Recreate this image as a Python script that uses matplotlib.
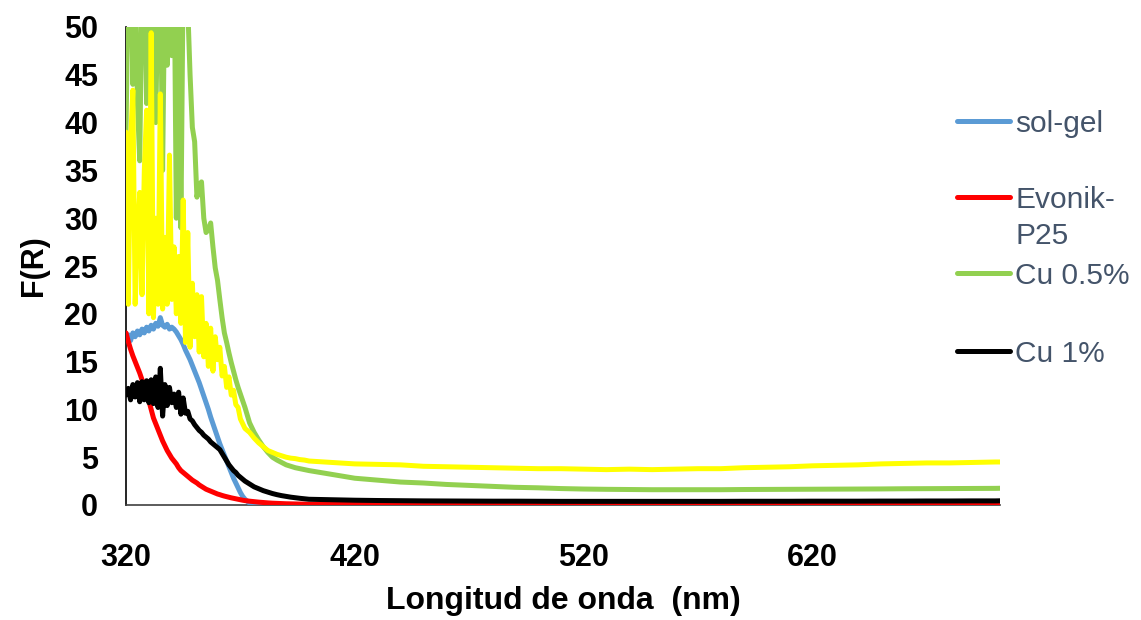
import numpy as np
import matplotlib
matplotlib.use("Agg")
import matplotlib.pyplot as plt
from matplotlib.lines import Line2D

plt.rcParams['font.family'] = ['Liberation Sans', 'DejaVu Sans']

# ---------------- DATA ----------------
# wavelength grid (nm): 1 nm steps in the noisy band, coarser in the tail
wl = np.concatenate([np.arange(320, 373, 1),
                     np.arange(374, 401, 2),
                     np.arange(410, 701, 10),
                     [702]])

sol_gel = [17.3, 17.8, 17.2, 18.0, 17.6, 18.2, 17.8, 18.4, 18.0, 18.6,
           18.2, 18.8, 18.4, 19.0, 18.7, 19.6, 18.8, 18.6, 18.9, 18.4,
           18.6, 18.4, 18.1, 17.7, 17.3, 16.8, 16.2, 15.7, 15.2, 14.6,
           14.0, 13.4, 12.8, 12.1, 11.4, 10.7, 10.0, 9.2, 8.5, 7.8,
           7.1, 6.4, 5.8, 5.2, 4.6, 4.0, 3.4, 2.8, 2.3, 1.8,
           1.3, 0.9, 0.6,
           0.2, 0.03, 0, 0, 0, 0, 0, 0, 0, 0, 0, 0, 0, 0,
           0, 0, 0, 0, 0, 0, 0, 0, 0, 0, 0, 0, 0, 0, 0,
           0, 0, 0, 0, 0, 0, 0, 0, 0, 0, 0, 0, 0, 0, 0,
           0]

evonik = [18.0, 17.1, 16.3, 15.6, 15.0, 14.4, 13.8, 13.1, 12.4, 11.7,
          10.9, 10.0, 9.1, 8.5, 7.9, 7.3, 6.7, 6.2, 5.7, 5.3,
          4.9, 4.6, 4.3, 3.9, 3.6, 3.4, 3.2, 3.0, 2.8, 2.6,
          2.45, 2.3, 2.1, 1.95, 1.8, 1.65, 1.55, 1.45, 1.35, 1.25,
          1.15, 1.08, 1.0, 0.93, 0.87, 0.81, 0.75, 0.7, 0.65, 0.6,
          0.55, 0.5, 0.46,
          0.4, 0.35, 0.3, 0.26, 0.22, 0.19, 0.17, 0.15, 0.13, 0.12, 0.11, 0.1, 0.09, 0.08,
          0.07, 0.06, 0.06, 0.05, 0.05, 0.05, 0.05, 0.05, 0.05, 0.05, 0.05, 0.05, 0.05, 0.05, 0.05,
          0.05, 0.05, 0.05, 0.05, 0.05, 0.05, 0.05, 0.05, 0.05, 0.05, 0.05, 0.05, 0.05, 0.05, 0.05,
          0.05]

cu_05 = [39, 56, 58, 44, 57, 42, 36, 55, 57, 42,
         56, 45, 58, 40, 55, 57, 35, 56, 46, 55,
         47, 58, 30, 57, 29, 56, 57, 52, 45, 39.5,
         38, 32.2, 33.5, 33.8, 30, 28.5, 28.8, 29.5, 27, 24.8,
         23.5, 21.5, 19.6, 18.0, 17.0, 15.9, 14.9, 14.0, 13.1, 12.3,
         11.6, 10.9, 10.2,
         8.6, 7.6, 6.8, 6.1, 5.5, 5.0, 4.7, 4.45, 4.2, 4.05, 3.9, 3.8, 3.7, 3.6,
         3.2, 2.8, 2.6, 2.4, 2.3, 2.15, 2.05, 1.95, 1.85, 1.8, 1.72, 1.67, 1.64, 1.62, 1.6,
         1.6, 1.6, 1.6, 1.62, 1.63, 1.64, 1.65, 1.66, 1.67, 1.68, 1.7, 1.71, 1.72, 1.73, 1.74,
         1.75]

cu_1 = [11.5, 12.2, 11.0, 12.6, 11.3, 12.8, 10.8, 12.9, 11.0, 13.0,
        10.7, 13.1, 10.6, 13.4, 10.2, 14.3, 9.3, 12.6, 10.4, 12.3,
        10.7, 11.6, 10.2, 11.8, 9.5, 11.2, 9.6, 9.8, 9.0, 8.8,
        8.4, 8.1, 7.8, 7.6, 7.3, 7.1, 6.9, 6.6, 6.4, 6.2,
        6.0, 5.8, 5.4, 5.0, 4.6, 4.2, 3.9, 3.6, 3.4, 3.1,
        2.9, 2.7, 2.5,
        2.2, 1.9, 1.7, 1.5, 1.35, 1.2, 1.08, 0.98, 0.9, 0.82, 0.76, 0.7, 0.65, 0.6,
        0.55, 0.5, 0.47, 0.45, 0.43, 0.42, 0.41, 0.4, 0.4, 0.39, 0.38, 0.38, 0.38, 0.38, 0.38,
        0.38, 0.38, 0.38, 0.39, 0.39, 0.39, 0.4, 0.4, 0.4, 0.41, 0.41, 0.42, 0.42, 0.43, 0.43,
        0.44]

cu_extra = [39, 21, 38, 43.4, 21, 28, 32.7, 22, 35, 41.3,
            20, 49.4, 19.6, 30, 21, 43, 20.5, 28, 21, 36.6,
            21.5, 27, 20, 26, 19, 31.9, 17, 28.5, 16.5, 23.2,
            17.6, 22, 16, 21.8, 15.5, 19, 14.5, 18.5, 14, 17.6,
            15.2, 16.5, 13.5, 14.5, 12.3, 13.4, 11.5, 12.0, 10.5, 10.2,
            9.0, 8.5, 8.0,
            7.6, 7.0, 6.5, 6.1, 5.7, 5.5, 5.3, 5.15, 5.0, 4.9, 4.85, 4.75, 4.7, 4.6,
            4.45, 4.3, 4.25, 4.2, 4.05, 4.0, 3.95, 3.9, 3.85, 3.8, 3.8, 3.75, 3.7, 3.75, 3.7,
            3.75, 3.8, 3.8, 3.9, 3.95, 4.0, 4.1, 4.15, 4.2, 4.3, 4.35, 4.4, 4.4, 4.45, 4.5,
            4.5]

series = [sol_gel, evonik, cu_05, cu_1, cu_extra]
labels = ["sol-gel", "Evonik-\nP25", "Cu 0.5%", "Cu 1%", None]
colors = ["#5B9BD5", "#FF0000", "#92D050", "#000000", "#FFFF00"]

x_ticks = [320, 420, 520, 620]
y_ticks = [0, 5, 10, 15, 20, 25, 30, 35, 40, 45, 50]

# ---------------- PLOT ----------------
fig = plt.figure(figsize=(11.41, 6.2), dpi=100)
ax = fig.add_axes([126 / 1141, 115 / 620, 874 / 1141, 478 / 620])

for i, (vals, col) in enumerate(zip(series, colors)):
    ax.plot(wl, vals, color=col, lw=3.6, solid_joinstyle="round",
            solid_capstyle="round", zorder=3 + i)

ax.set_xlim(320, 702)
ax.set_ylim(0, 50)
ax.set_xticks(x_ticks)
ax.set_yticks(y_ticks)
ax.tick_params(axis="x", length=0, pad=27, labelsize=22)
ax.tick_params(axis="y", length=0, pad=20, labelsize=22)
for lab in ax.get_xticklabels() + ax.get_yticklabels():
    lab.set_fontweight("bold")

ax.spines["top"].set_visible(False)
ax.spines["right"].set_visible(False)
ax.spines["left"].set_color("black")
ax.spines["bottom"].set_color("#404040")
ax.spines["left"].set_linewidth(1.2)
ax.spines["bottom"].set_linewidth(1.2)

ax.set_xlabel("Longitud de onda  (nm)", fontsize=23, fontweight="bold")
ax.set_ylabel("F(R)", fontsize=22, fontweight="bold")
ax.xaxis.set_label_coords(0.5, -0.17)
ax.yaxis.set_label_coords(-0.088, 0.5)

# ---------------- LEGEND (manual, like the original) ----------------
leg_y = [121, 197, 273, 351]
for lab, col, yp in zip(labels[:4], colors[:4], leg_y):
    fy = 1 - yp / 620
    fig.add_artist(Line2D([957 / 1141, 1010 / 1141], [fy, fy], color=col, lw=3.6,
                          solid_capstyle="round", transform=fig.transFigure))
    for k, part in enumerate(lab.split("\n")):
        fig.text(1015 / 1141, 1 - (yp + 3 + k * 36) / 620, part, fontsize=21.5,
                 color="#44546A", va="center", ha="left")

fig.savefig("out.png", dpi=100)
